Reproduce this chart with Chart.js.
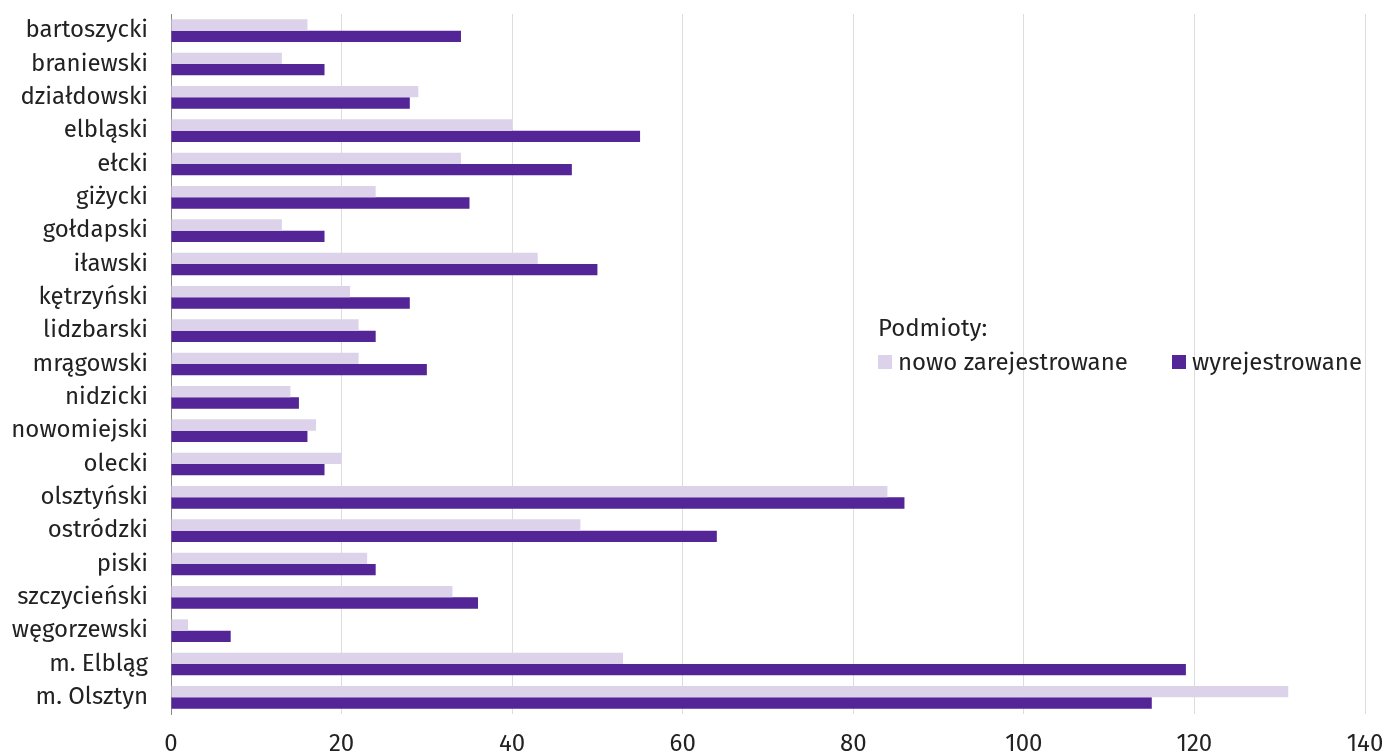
<!DOCTYPE html>
<html>
<head>
<meta charset="utf-8">
<script src="https://cdn.jsdelivr.net/npm/chart.js@4/dist/chart.umd.min.js"></script>
<style>
  html, body { margin: 0; padding: 0; background: #fff; }
  #wrap { position: relative; width: 1386px; height: 754px; }
  #legend { position: absolute; left: 878px; top: 314px; font-family: "Fira Sans", "Noto Sans", sans-serif; font-size: 24px; color: #222; }
  #legend .row { display: flex; align-items: center; margin-top: 6px; }
  #legend .item { display: flex; align-items: center; }
  #legend .box { width: 14px; height: 14px; margin-right: 6px; }
</style>
</head>
<body>
<div id="wrap">
  <canvas id="myChart" width="1386" height="754"></canvas>
  <div id="legend">
    <div>Podmioty:</div>
    <div class="row">
      <div class="item" style="width:294px"><span class="box" style="background:#dcd3ea"></span>nowo zarejestrowane</div>
      <div class="item"><span class="box" style="background:#542596"></span>wyrejestrowane</div>
    </div>
  </div>
</div>
<script>
var powiaty = ['bartoszycki', 'braniewski', 'działdowski', 'elbląski', 'ełcki', 'giżycki', 'gołdapski',
    'iławski', 'kętrzyński', 'lidzbarski', 'mrągowski', 'nidzicki', 'nowomiejski', 'olecki',
    'olsztyński', 'ostródzki', 'piski', 'szczycieński', 'węgorzewski', 'm. Elbląg', 'm. Olsztyn'];
var nowoZarejestrowane = [16, 13, 29, 40, 34, 24, 13, 43, 21, 22, 22, 14, 17, 20, 84, 48, 23, 33, 2, 53, 131];
var wyrejestrowane = [34, 18, 28, 55, 47, 35, 18, 50, 28, 24, 30, 15, 16, 18, 86, 64, 24, 36, 7, 119, 115];

var ctx = document.getElementById('myChart').getContext('2d');
var myChart = new Chart(ctx, {
    type: 'bar',
    data: {
        labels: powiaty,
        datasets: [
            {
                label: 'nowo zarejestrowane',
                data: nowoZarejestrowane,
                backgroundColor: '#dcd3ea',
                categoryPercentage: 0.68,
                barPercentage: 1.0
            },
            {
                label: 'wyrejestrowane',
                data: wyrejestrowane,
                backgroundColor: '#542596',
                categoryPercentage: 0.68,
                barPercentage: 1.0
            }]
    },
    options: {
        responsive: false,
        animation: false,
        indexAxis: 'y',
        layout: {
            padding: { top: 14, right: 21, bottom: 0, left: 0 }
        },
        plugins: {
            legend: { display: false },
            tooltip: { enabled: false }
        },
        scales: {
            x: {
                min: 0,
                max: 140,
                ticks: {
                    stepSize: 20,
                    color: '#222',
                    padding: 16,
                    font: { family: '"Fira Sans", "Noto Sans", sans-serif', size: 24 }
                },
                grid: { color: '#dddddd', lineWidth: 1, drawTicks: false },
                border: { display: false },
                afterFit: function (scale) {
                    scale.height = 40;
                    scale.paddingLeft = 0;
                    scale.paddingRight = 0;
                }
            },
            y: {
                ticks: {
                    autoSkip: false,
                    color: '#222',
                    padding: 23,
                    font: { family: '"Fira Sans", "Noto Sans", sans-serif', size: 24 }
                },
                grid: { display: false, drawTicks: false },
                border: { display: true, color: '#888888', width: 1 },
                afterFit: function (scale) {
                    scale.width = 171;
                    scale.paddingTop = 0;
                    scale.paddingBottom = 0;
                }
            }
        }
    }
});
</script>
</body>
</html>
